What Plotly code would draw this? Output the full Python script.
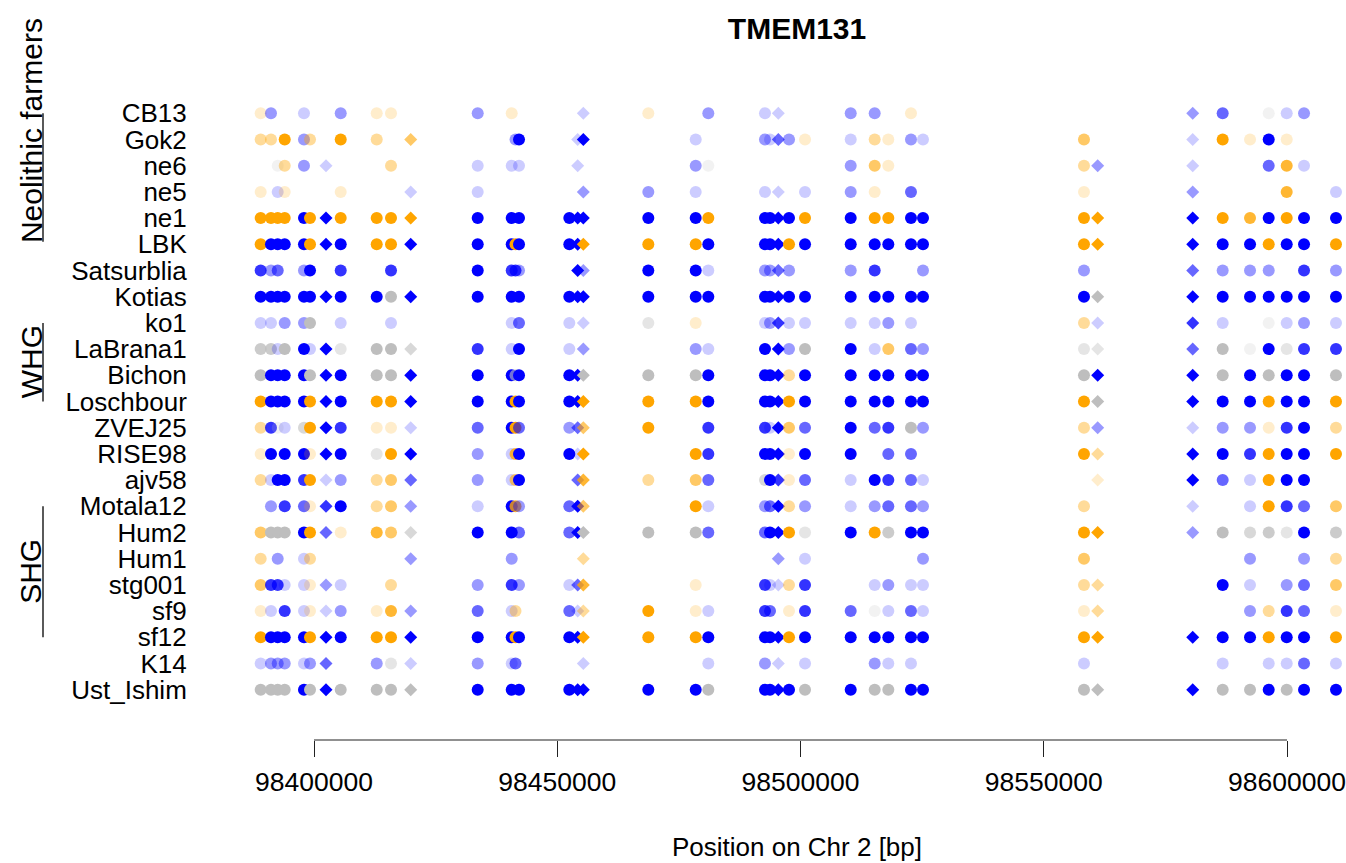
import plotly.graph_objects as go

# ---------------- data ----------------
samples = ["CB13", "Gok2", "ne6", "ne5", "ne1", "LBK", "Satsurblia", "Kotias",
           "ko1", "LaBrana1", "Bichon", "Loschbour", "ZVEJ25", "RISE98", "ajv58",
           "Motala12", "Hum2", "Hum1", "stg001", "sf9", "sf12", "K14", "Ust_Ishim"]

positions = [98389040, 98391160, 98392540, 98393980, 98397940, 98399180, 98402470,
             98405490, 98412890, 98415830, 98419880, 98433650, 98440640, 98441420,
             98442140, 98452480, 98454200, 98455360, 98468720, 98478460, 98481050,
             98492700, 98493730, 98495440, 98497640, 98500930, 98510320, 98515250,
             98518050, 98522710, 98525180, 98558270, 98561090, 98580620, 98586780,
             98592400, 98596240, 98599940, 98603500, 98610070]

# variant kind per position: "snp" (circle) or "ind" (diamond)
variant_kind = ["snp", "snp", "snp", "snp", "snp", "snp", "ind", "snp", "snp", "snp",
                "ind", "snp", "snp", "snp", "snp", "snp", "ind", "ind", "snp", "snp",
                "snp", "snp", "snp", "ind", "snp", "snp", "snp", "snp", "snp", "snp",
                "snp", "snp", "ind", "ind", "snp", "snp", "snp", "snp", "snp", "snp"]

# genotype calls: letter = allele class (B blue, O orange, G grey), digit = confidence 1..5, "." = no data
calls = [
    "O1 B2 .  .  B1 .  .  B2 O1 O1 .  B2 O1 .  .  .  .  B1 O1 .  B2 B1 .  B1 .  .  B2 B2 .  O1 .  .  .  B2 B3 .  G1 B1 B2 .",
    "O2 O2 .  O5 B2 O2 .  O5 O2 .  O3 .  .  B2 B5 .  B1 B5 .  B1 .  B2 B1 B3 B2 O1 B1 O2 O1 B2 B1 O3 .  B1 O5 O1 B5 O1 .  .",
    ".  .  G1 O2 B2 .  B1 .  .  O2 .  B1 B1 .  B1 .  B1 .  .  B2 G1 .  .  .  .  .  B2 O3 O1 .  .  O2 B2 B1 .  .  B3 O4 B1 .",
    "O1 .  B1 O1 .  .  .  O1 .  .  B1 B1 .  .  .  .  .  B2 B2 B1 .  B1 .  B1 .  B1 B2 O1 .  B3 .  O1 .  B2 .  .  .  O4 .  B1",
    "O5 O5 O5 O5 B5 O5 B5 O5 O5 O5 O5 B5 B5 .  B5 B5 B5 B5 B5 B5 O5 B5 B5 B5 B5 O5 B5 O5 O5 B5 B5 O5 O5 B5 O5 O4 B5 O5 B5 B5",
    "O5 B5 B5 B5 B5 O5 B5 B5 O5 O5 B5 B5 B5 O5 B5 B5 B5 O5 O5 O5 B5 B5 B5 B5 O5 B5 B5 B5 B5 B5 B5 O5 O5 B5 B5 B5 O5 B5 B5 O5",
    "B4 B2 B3 .  B2 B5 .  B4 .  B4 .  B5 B4 B4 B2 .  B5 B2 B5 B5 B1 B2 B2 B3 B2 .  B2 B4 .  .  B2 B2 .  B3 B2 B2 B2 .  B4 B2",
    "B5 B5 B5 B5 B5 B5 B5 B5 B5 G5 B5 B5 B5 .  B5 B5 B5 B5 B5 B5 B5 B5 B5 B5 B5 B5 B5 B5 B5 B5 B5 B5 G5 B5 B5 B5 B5 B5 B5 B5",
    "B1 B1 .  B2 B2 G5 .  B1 .  B1 .  .  B1 .  B3 B1 .  B1 G2 O1 .  B1 B2 B4 B1 B1 B1 B1 B2 B1 .  O2 B1 B4 B1 .  G1 B1 B2 B1",
    "G4 G4 B1 G5 B5 B1 B5 G2 G5 G5 G3 B4 B1 .  B5 B1 .  B2 .  B2 B1 B5 .  B5 B2 G5 B5 B1 O3 B3 B2 G2 G2 B3 G5 G1 B5 G2 B4 B4",
    "G5 B5 B5 B5 B5 G5 B5 B5 G5 G5 B5 B5 B5 G3 B5 B5 B5 G5 G5 G5 B5 B5 B5 B5 O2 B5 B5 B5 B5 B5 B5 G5 B5 B5 G5 B5 G5 B5 B5 G5",
    "O5 B5 B5 B5 B5 O5 B5 B5 O5 O5 B5 B5 B5 O5 B5 B5 B5 O5 O5 O5 B5 B5 B5 B5 O5 B5 B5 B5 B5 B5 B5 O5 G5 B5 B5 B5 O5 B5 B5 O5",
    "O2 B4 G1 B1 G3 O5 B5 B4 O1 O1 B1 B3 B5 O5 B3 B2 B3 O3 O5 .  B4 B4 B1 B5 O3 B3 B5 B3 B4 G5 B2 O2 B2 B1 B2 B2 O1 B4 B5 O2",
    "O1 B5 .  B5 B5 O1 B5 B5 G2 O5 B5 B2 B1 O4 B5 B5 B1 O5 .  O5 B4 B5 B5 B5 O1 B5 B5 .  B3 B3 .  O5 O2 B5 B5 B4 O5 B5 B5 O5",
    "O2 B1 B5 B5 B4 O5 B1 B2 O2 O3 B3 B2 B1 O3 B5 .  B3 O4 O2 O3 B3 G3 B5 B4 O1 B3 B1 B5 B4 B3 B1 .  O1 B5 B3 B1 O5 B5 B5 .",
    ".  B2 .  B4 B3 O1 B4 B5 O2 O3 B2 B1 B5 O4 B2 B3 B5 O3 .  O5 B1 B2 B3 B5 O2 B2 B1 B2 B3 B3 B2 O2 .  B1 .  B1 O5 B4 B3 O3",
    "O3 G5 G5 G5 B5 O5 B3 O1 O4 O3 G3 B5 B5 .  B3 B3 B5 G5 G5 G5 B3 B3 B5 B5 O5 G2 B5 O5 G4 B5 B5 O5 O5 B2 G5 G3 G4 G2 B5 G4",
    "O2 .  B2 .  B1 O2 .  .  .  .  B2 .  B2 .  .  .  .  O2 .  .  .  .  .  B2 .  B1 .  .  .  .  B2 O3 .  .  .  B2 .  .  B2 O2",
    "O3 B4 B4 B1 B1 O1 B2 B1 .  O2 .  B2 B4 .  B2 B1 B3 O4 .  O1 .  B4 B1 B1 O2 B4 .  B1 B2 B1 B1 O2 O2 .  B5 B1 .  B2 B3 O3",
    "O1 B1 .  B4 B1 O1 B1 B2 O1 O4 B2 B3 B1 O2 .  B3 B1 O2 O5 O1 B1 B4 B3 .  O1 B4 B3 G1 B1 B3 B1 O1 O2 .  .  B2 O2 B4 B3 O1",
    "O5 B5 B5 B5 B5 O5 B5 B5 O5 O5 B5 B5 B5 O5 B5 B5 B5 O5 O5 O5 B5 B5 B5 B5 O5 B5 B5 B5 B5 B5 B5 O5 O5 B5 B5 B5 O5 B5 B5 O5",
    "B1 B2 B2 B2 B1 B2 B3 .  B2 G2 B1 B2 B1 B3 .  .  .  B1 .  .  B1 B2 .  B1 .  B1 .  B2 B1 B1 .  B1 .  .  B1 .  B1 B1 B3 B1",
    "G5 G5 G5 G5 B5 G5 B5 G5 G5 G5 G5 B5 B5 .  B5 B5 B5 B5 B5 B5 G5 B5 B5 B5 B5 G5 B5 G5 G5 B5 B5 G5 G5 B5 G5 G5 B5 G5 B5 B5",
]

groups = ["Neolithic farmers", "WHG", "SHG"]
group_first = ["CB13", "ko1", "Motala12"]
group_last = ["LBK", "Loschbour", "sf12"]

tick_vals = [98400000, 98450000, 98500000, 98550000, 98600000]
tick_text = ["98400000", "98450000", "98500000", "98550000", "98600000"]

title = "TMEM131"
x_title = "Position on Chr 2 [bp]"

# ---------------- styling ----------------
base_rgb = {"B": (0, 0, 255), "O": (255, 165, 0), "G": (190, 190, 190)}
symbol_of = {"snp": "circle", "ind": "diamond"}
size_of = {"snp": 12, "ind": 10}
FONT = "Liberation Sans, Arial, Helvetica, sans-serif"

grid = [row.split() for row in calls]

xs, ys, cols, syms, sizes = [], [], [], [], []
for j, pos in enumerate(positions):
    for i, s in enumerate(samples):
        code = grid[i][j]
        if code == ".":
            continue
        r, g, b = base_rgb[code[0]]
        a = int(code[1]) * 0.2
        xs.append(pos)
        ys.append(i)
        cols.append(f"rgba({r},{g},{b},{a:.2f})")
        syms.append(symbol_of[variant_kind[j]])
        sizes.append(size_of[variant_kind[j]])

fig = go.Figure()
fig.add_trace(go.Scatter(
    x=xs, y=ys, mode="markers",
    marker=dict(color=cols, symbol=syms, size=sizes, opacity=1, line=dict(width=0)),
    hoverinfo="skip", showlegend=False, cliponaxis=False,
))

W, H = 1346, 863
ML, MR, MT = 250, 2, 100
MB = H - 740
pw = W - ML - MR
ph = H - MT - MB

row_px = 26.2
first_row_px = 113.3
y_top = -(first_row_px - MT) / row_px
y_bot = y_top + ph / row_px

px_per_bp = 973 / 200000
x_lo = 98400000 - (314 - ML) / px_per_bp
x_hi = x_lo + pw / px_per_bp


def paper_x(px):
    return (px - ML) / pw


fig.update_layout(
    width=W, height=H,
    margin=dict(l=ML, r=MR, t=MT, b=MB, autoexpand=False),
    paper_bgcolor="white", plot_bgcolor="white",
    font=dict(family=FONT, color="black", size=26),
    title=dict(text=f"<b>{title}</b>", x=797 / W, y=1 - 28 / H,
               xanchor="center", yanchor="middle",
               font=dict(family=FONT, size=30, color="black")),
    xaxis=dict(range=[x_lo, x_hi], showgrid=False, zeroline=False, showline=False,
               tickmode="array", tickvals=tick_vals, ticktext=tick_text,
               ticks="outside", ticklen=16, tickwidth=1.2, tickcolor="#222",
               ticklabelstandoff=2, ticklabeloverflow="allow",
               tickfont=dict(family=FONT, size=26.5, color="black"),
               title=dict(text=x_title, standoff=42,
                          font=dict(family=FONT, size=26, color="black"))),
    yaxis=dict(range=[y_bot, y_top], showgrid=False, zeroline=False, showline=False,
               tickmode="array", tickvals=list(range(len(samples))), ticktext=samples,
               ticks="outside", ticklen=57, tickcolor="rgba(0,0,0,0)",
               tickfont=dict(family=FONT, size=26, color="black")),
)

# x axis line spanning first to last tick (R style)
fig.add_shape(type="line", xref="x", yref="paper", x0=tick_vals[0], x1=tick_vals[-1],
              y0=0, y1=0, line=dict(color="#222", width=1.2))

# group brackets and labels
line_x = paper_x(43)
text_x = paper_x(31)
for gname, gf, gl in zip(groups, group_first, group_last):
    i0, i1 = samples.index(gf), samples.index(gl)
    fig.add_shape(type="line", xref="paper", yref="y", x0=line_x, x1=line_x,
                  y0=i0, y1=i1 - (0.1 if gname == groups[0] else 0),
                  line=dict(color="black", width=1.3))
    if gname == groups[0]:
        fig.add_annotation(text=gname, xref="paper", yref="y", x=text_x, y=i1 + 0.05,
                           textangle=-90, showarrow=False, xanchor="center", yanchor="bottom",
                           font=dict(family=FONT, size=30, color="black"))
    else:
        fig.add_annotation(text=gname, xref="paper", yref="y", x=text_x, y=(i0 + i1) / 2,
                           textangle=-90, showarrow=False, xanchor="center", yanchor="middle",
                           font=dict(family=FONT, size=30, color="black"))

fig.write_html(
    "out.html",
    config={"displayModeBar": False},
    post_script="document.body.style.margin='0px';document.body.style.overflow='hidden';",
)
